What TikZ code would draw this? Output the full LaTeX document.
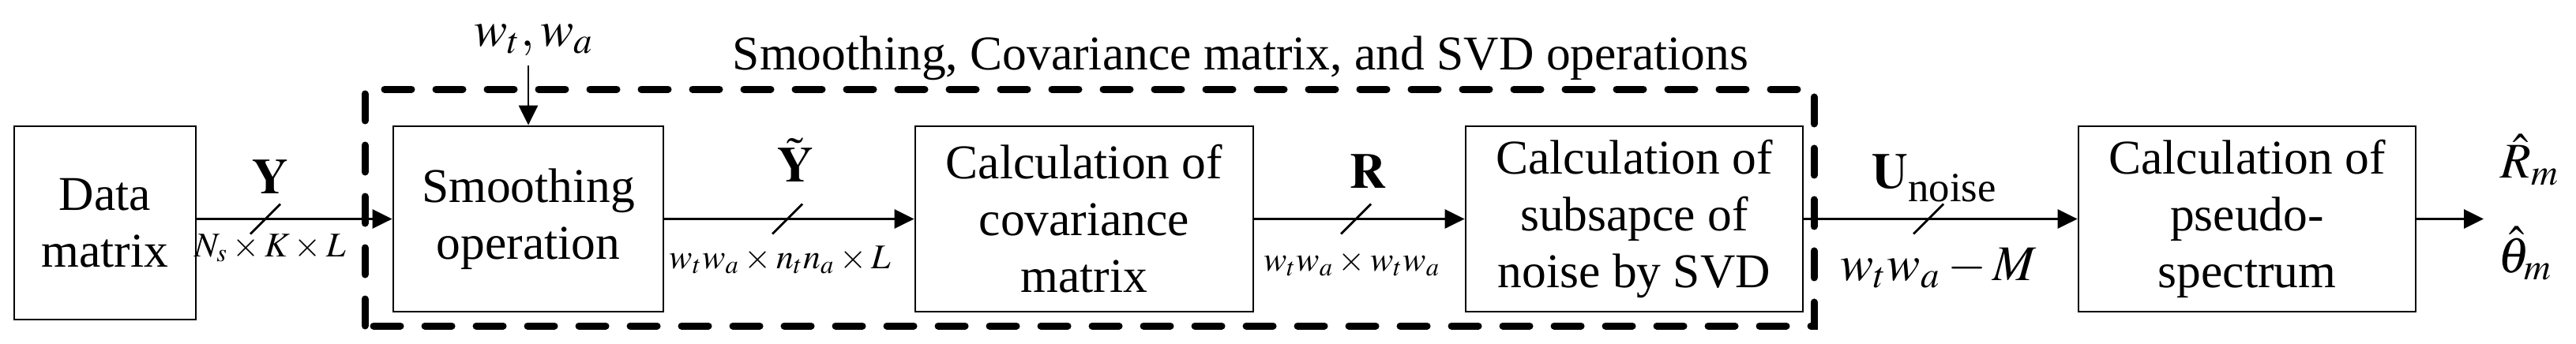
\documentclass[tikz,border=0pt]{standalone}
\usepackage{mathptmx}
\usepackage{fontspec}
\setmainfont{Liberation Serif}
\usetikzlibrary{arrows.meta}
\tikzset{
  blk/.style={draw, line width=0.8pt, align=center, inner sep=0pt, font=\fontsize{17.5}{20.5}\selectfont},
  conn/.style={line width=0.8pt, -{Triangle[length=0.25cm,width=0.24cm]}},
  slash/.style={line width=0.8pt},
  grpbox/.style={line width=0.09cm, dash pattern=on 0.34cm off 0.31cm, line cap=round},
  biglab/.style={font=\fontsize{18}{18}\selectfont, inner sep=0pt, anchor=base},
  dimlab/.style={font=\fontsize{12.5}{12.5}\selectfont, inner sep=0pt, anchor=base},
  titlelab/.style={font=\fontsize{17.5}{20.5}\selectfont, inner sep=0pt, anchor=base},
}
\begin{document}
\begin{tikzpicture}
\useasboundingbox (0,0) rectangle (32.62,4.35);

% blocks
\node[blk, minimum width=2.30cm, minimum height=2.45cm] (data) at (1.33,1.525) {Data\\matrix};
\node[blk, minimum width=3.42cm, minimum height=2.35cm] (smooth) at (6.69,1.575) {Smoothing\\operation};
\node[blk, minimum width=4.28cm, minimum height=2.35cm] (cov) at (13.73,1.575) {Calculation of\\covariance\\matrix};
\node[blk, minimum width=4.27cm, minimum height=2.35cm] (svd) at (20.695,1.575) {Calculation of\\subsapce of\\noise by SVD};
\node[blk, minimum width=4.27cm, minimum height=2.35cm] (pseudo) at (28.455,1.575) {Calculation of\\pseudo-\\spectrum};

% dashed group
\draw[grpbox] (4.62,0.22) rectangle (22.97,3.22);
\node[titlelab] (title) at (15.71,3.47) {Smoothing, Covariance matrix, and SVD operations};

% top input
\node[biglab] (wlab) at (6.76,3.77) {$w_t, w_a$};
\coordinate (wtop) at (6.69,3.52);
\draw[conn] (wtop) -- (smooth.north);

% connectors
\draw[conn] (data.east |- smooth.west) -- (smooth.west);
\draw[conn] (smooth.east) -- (cov.west);
\draw[conn] (cov.east) -- (svd.west);
\draw[conn] (svd.east) -- (pseudo.west);
\coordinate (out) at (31.45,1.575);
\draw[conn] (pseudo.east) -- (out);

% slashes
\coordinate (s1) at (3.36,1.575);
\coordinate (s2) at (9.97,1.575);
\coordinate (s3) at (17.17,1.575);
\coordinate (s4) at (24.42,1.575);
\foreach \s in {s1,s2,s3,s4}
  \draw[slash] ([shift={(-0.19,-0.19)}]\s) -- ([shift={(0.19,0.19)}]\s);

% labels
\node[biglab] (ly) at (3.42,1.90) {$\mathbf{Y}$};
\node[dimlab] (dy) at (3.42,1.10) {$N_s \times K \times L$};
\node[biglab] (lyt) at (10.07,2.05) {$\tilde{\mathbf{Y}}$};
\node[dimlab] (dyt) at (9.88,0.95) {$w_t w_a \times n_t n_a \times L$};
\node[biglab] (lr) at (17.32,1.97) {$\mathbf{R}$};
\node[dimlab] (dr) at (17.12,0.92) {$w_t w_a \times w_t w_a$};
\node[biglab, anchor=base west] (lu) at (23.70,1.97) {$\mathbf{U}$\raisebox{-0.17cm}{\fontsize{15}{15}\selectfont noise}};
\node[biglab] (du) at (24.55,0.80) {$w_t w_a - M$};

% outputs
\node[biglab, anchor=base west] (rm) at (31.66,2.10) {$\hat{R}_m$};
\node[biglab, anchor=base west] (tm) at (31.63,0.90) {$\hat{\theta}_m$};
\end{tikzpicture}
\end{document}
